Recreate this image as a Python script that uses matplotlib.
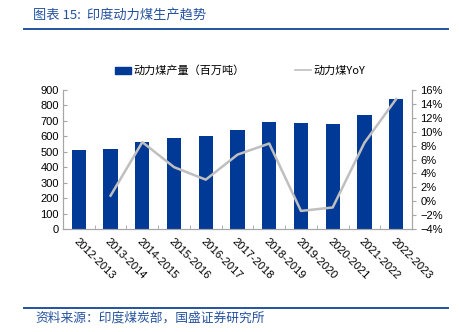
import matplotlib
matplotlib.use("Agg")
import matplotlib.pyplot as plt
from matplotlib.lines import Line2D
from matplotlib.patches import Patch
from matplotlib.ticker import FixedLocator, PercentFormatter

plt.rcParams['font.family'] = ['Liberation Sans', 'Noto Sans CJK SC']

years = ['2012-2013', '2013-2014', '2014-2015', '2015-2016', '2016-2017', '2017-2018',
         '2018-2019', '2019-2020', '2020-2021', '2021-2022', '2022-2023']
output = [510, 517, 561, 587, 604, 644, 696, 687, 678, 737, 839]
yoy = [None, 0.8, 8.5, 4.9, 3.1, 6.7, 8.3, -1.4, -0.9, 8.4, 14.7]

blue = '#003A96'
gray = '#BFBFBF'
title_blue = '#2452A0'

W, H = 459, 332
fig = plt.figure(figsize=(W / 100, H / 100), dpi=100)

# title and rules
fig.text(33 / W, 1 - 15 / H, '图表 15:  印度动力煤生产趋势', color=title_blue,
         fontsize=9.5, style='italic', va='center', ha='left',
         family=['Noto Sans CJK SC', 'DejaVu Sans'])
fig.add_artist(Line2D([24 / W, 448 / W], [1 - 29 / H, 1 - 29 / H], color=title_blue, lw=1.4))
fig.add_artist(Line2D([24 / W, 448 / W], [1 - 308 / H, 1 - 308 / H], color=title_blue, lw=1.4))
fig.text(35 / W, 1 - 318 / H, '资料来源：印度煤炭部，国盛证券研究所', color=title_blue,
         fontsize=9.2, style='italic', va='center', ha='left',
         family=['Noto Sans CJK SC', 'DejaVu Sans'])

ax = fig.add_axes([63 / W, 1 - 229 / H, (412 - 63) / W, (229 - 90) / H])
ax2 = ax.twinx()

x = list(range(len(years)))
ax.bar(x, output, width=0.45, color=blue, zorder=2)
xs = [i for i, v in zip(x, yoy) if v is not None]
ys = [v for v in yoy if v is not None]
ax2.plot(xs, ys, color=gray, lw=1.8)

ax.set_xlim(-0.5, len(years) - 0.5)
ax.set_ylim(0, 900)
ax.set_yticks(range(0, 901, 100))
ax2.set_ylim(-4, 16)
ax2.set_yticks(range(-4, 17, 2))
ax2.yaxis.set_major_formatter(PercentFormatter(decimals=0))

ax.set_xticks(x)
ax.set_xticklabels(years, rotation=-45, ha='left', rotation_mode='anchor', fontsize=8)
ax.tick_params(axis='x', which='major', length=0, pad=5)
ax.xaxis.set_minor_locator(FixedLocator([i + 0.5 for i in range(len(years) - 1)]))
ax.tick_params(axis='x', which='minor', direction='in', length=3, color='#A6A6A6')
ax.tick_params(axis='y', direction='in', length=3, color='#A6A6A6', labelsize=8, pad=3)
ax2.tick_params(axis='y', direction='out', length=3, color='#A6A6A6', labelsize=8, pad=3)

for a in (ax, ax2):
    a.spines['top'].set_visible(False)
    for s in ('left', 'right', 'bottom'):
        a.spines[s].set_color('#A6A6A6')
        a.spines[s].set_linewidth(0.8)

handles = [Patch(facecolor=blue, edgecolor=blue), Line2D([], [], color=gray, lw=1.2)]
labels = ['动力煤产量（百万吨）', '动力煤YoY']
fig.legend(handles, labels, loc='center', bbox_to_anchor=(240 / W, 1 - 71 / H), ncol=2,
           frameon=False, handlelength=1.5, handleheight=0.7,
           handletextpad=0.2, columnspacing=4.5,
           prop={'family': ['Noto Sans CJK SC', 'DejaVu Sans'], 'size': 8})

fig.savefig('out.png', dpi=100)
